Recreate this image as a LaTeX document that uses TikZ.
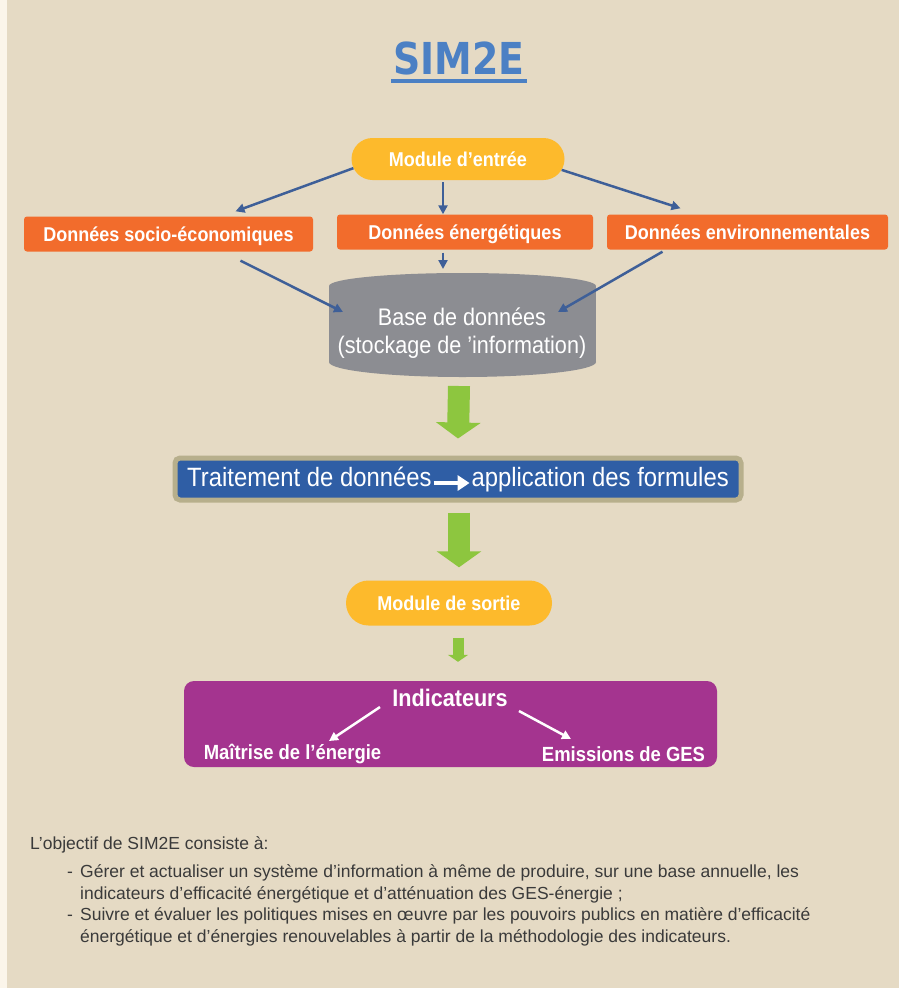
\documentclass[tikz,border=0pt]{standalone}
\usepackage{fontspec}
\setmainfont[FakeStretch=0.9]{Liberation Sans}
\newfontfamily\bodyfont{Liberation Sans}
\newfontfamily\titlefont[FakeStretch=0.86]{DejaVu Sans}
\usetikzlibrary{arrows.meta,shapes.misc}

\definecolor{paper}{RGB}{229,218,196}
\definecolor{margin}{RGB}{251,245,234}
\definecolor{titleblue}{RGB}{75,128,196}
\definecolor{pillyellow}{RGB}{253,186,44}
\definecolor{boxorange}{RGB}{242,108,44}
\definecolor{linkblue}{RGB}{62,95,152}
\definecolor{dbgray}{RGB}{140,141,146}
\definecolor{procblue}{RGB}{47,94,165}
\definecolor{procedge}{RGB}{183,175,140}
\definecolor{flowgreen}{RGB}{141,198,63}
\definecolor{indicpurple}{RGB}{164,52,143}
\definecolor{bodygray}{RGB}{58,58,58}

\newcommand\flowarrow{\tikz[baseline=-3pt]\draw[white,line width=4pt,-{Triangle[length=12pt,width=15pt]}] (0pt,0pt) -- (36pt,0pt);}

\begin{document}
\begin{tikzpicture}[x=1pt,y=-1pt,
    pill/.style={rounded rectangle,fill=pillyellow,text=white,font=\bfseries\fontsize{20}{24}\selectfont,inner xsep=0pt,text height=18pt,text depth=3.7pt},
    databox/.style={rectangle,rounded corners=3pt,fill=boxorange,text=white,font=\bfseries\fontsize{20}{24}\selectfont,inner xsep=0pt,text height=18pt,text depth=3.7pt},
    link/.style={linkblue,line width=2.5pt,-{Triangle[length=9pt,width=9pt]}},
    whitelink/.style={white,line width=2.5pt,-{Triangle[length=9pt,width=9pt]}},
    bigflow/.style={flowgreen,line width=22pt,-{Triangle[length=16pt,width=44pt]}},
    smallflow/.style={flowgreen,line width=11pt,-{Triangle[length=7pt,width=20pt]}},
    bodytext/.style={text=bodygray,font=\bodyfont\fontsize{17.5}{22}\selectfont,inner sep=0pt,align=left}]

    % Page
    \fill[paper] (0,0) rectangle (899,988);
    \fill[margin] (0,0) rectangle (7,988);
    \useasboundingbox (0,0) rectangle (899,988);

    % Title
    \node[font=\titlefont\bfseries\fontsize{44}{50}\selectfont, text=titleblue, inner sep=0pt] (title) at (459,58) {SIM2E};
    \draw[titleblue,line width=4pt] ([xshift=-2pt,yshift=-6pt]title.south west) -- ([xshift=2pt,yshift=-6pt]title.south east);

    % Input module and data sources
    \node[pill, minimum width=213pt, minimum height=42pt] (entree) at (458,159) {Module d’entrée};
    \node[databox, minimum width=289pt, minimum height=35pt] (socio) at (168.5,234) {Données socio-économiques};
    \node[databox, minimum width=256pt, minimum height=35pt] (energ) at (465,232) {Données énergétiques};
    \node[databox, minimum width=281pt, minimum height=35pt] (envir) at (747.5,232) {Données environnementales};

    \draw[link] (entree.185) -- ([xshift=67pt,yshift=5pt]socio.north);
    \draw[link] ([xshift=-15pt,yshift=-2pt]entree.south) -- ([xshift=-22pt]energ.north);
    \draw[link] (entree.354) -- ([xshift=-67pt,yshift=6pt]envir.north);

    % Database cylinder
    \fill[dbgray] (329,286) rectangle (596,362);
    \fill[dbgray] (462.5,286) ellipse [x radius=133.5pt, y radius=13pt];
    \fill[dbgray] (462.5,362) ellipse [x radius=133.5pt, y radius=15pt];
    \node[text=white, font=\fontsize{24}{28}\selectfont, align=center, inner sep=0pt] (db) at (462,333) {Base de données\\(stockage de ’information)};
    \coordinate (dbleft) at (343,312);
    \coordinate (dbtop) at (443,269);
    \coordinate (dbright) at (558,312);
    \coordinate (dbbase) at (459,377);

    \draw[link] ([xshift=72pt,yshift=-9pt]socio.south) -- (dbleft);
    \draw[link] ([xshift=-22pt,yshift=-3pt]energ.south) -- (dbtop);
    \draw[link] ([xshift=-85pt,yshift=-2pt]envir.south) -- (dbright);

    % Processing
    \node[rectangle, rounded corners=5pt, fill=procblue, draw=procedge, line width=5pt, text=white,
          font=\fontsize{26.5}{30}\selectfont, minimum width=566pt, minimum height=42pt, inner xsep=0pt] (trait) at (458,479)
          {Traitement de données\flowarrow application des formules};
    \draw[bigflow] ([yshift=-9pt]dbbase) -- ([yshift=17pt]trait.north);

    % Output module
    \node[pill, minimum width=206pt, minimum height=45pt] (sortie) at (449,603) {Module de sortie};
    \draw[bigflow] ([xshift=1pt,yshift=-10pt]trait.south) -- ([xshift=10pt,yshift=13pt]sortie.north);

    % Indicators
    \node[rectangle, rounded corners=10pt, fill=indicpurple, minimum width=533pt, minimum height=86pt] (indicbox) at (450.5,724) {};
    \draw[smallflow] ([xshift=9pt,yshift=-12pt]sortie.south) -- ([xshift=7.5pt,yshift=19pt]indicbox.north);
    \node[text=white, font=\bfseries\fontsize{24}{28}\selectfont, inner sep=0pt] (indic) at (450,698) {Indicateurs};
    \node[text=white, font=\bfseries\fontsize{20.5}{24}\selectfont, inner sep=0pt] (maitrise) at (292.5,754) {Maîtrise de l’énergie};
    \node[text=white, font=\bfseries\fontsize{20.5}{24}\selectfont, inner sep=0pt] (emis) at (623.5,754) {Emissions de GES};
    \draw[whitelink] ([xshift=-70pt,yshift=-9pt]indic.center) -- ([xshift=36.5pt,yshift=13pt]maitrise.center);
    \draw[whitelink] ([xshift=69pt,yshift=-13pt]indic.center) -- ([xshift=-52.5pt,yshift=15pt]emis.center);

    % Objectives text
    \node[bodytext, anchor=base west] (objectif) at (30,849) {L’objectif de SIM2E consiste à:};
    \node[bodytext, anchor=base west] (item1) at (67,899)
      {\makebox[13pt][l]{-}Gérer et actualiser un système d’information à même de produire, sur une base annuelle, les\\
       \hspace*{13pt}indicateurs d’efficacité énergétique et d’atténuation des GES-énergie ;};
    \node[bodytext, anchor=base west] (item2) at (67,942)
      {\makebox[13pt][l]{-}Suivre et évaluer les politiques mises en œuvre par les pouvoirs publics en matière d’efficacité\\
       \hspace*{13pt}énergétique et d’énergies renouvelables à partir de la méthodologie des indicateurs.};
\end{tikzpicture}
\end{document}
